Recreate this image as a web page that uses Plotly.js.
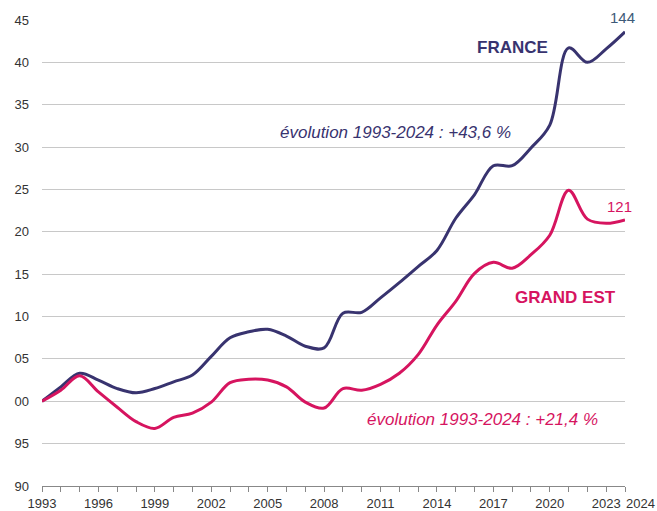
<!DOCTYPE html>
<html><head><meta charset="utf-8">
<script src="https://cdn.plot.ly/plotly-3.0.1.min.js"></script>
<style>html,body{margin:0;padding:0;background:#fff}#chart{width:657px;height:511px}</style>
</head><body><div id="chart"></div>
<script>
const years = [1993,1994,1995,1996,1997,1998,1999,2000,2001,2002,2003,2004,2005,2006,2007,2008,2009,2010,2011,2012,2013,2014,2015,2016,2017,2018,2019,2020,2021,2022,2023,2024];
const france = [100,101.7,103.3,102.5,101.5,101.0,101.5,102.3,103.1,105.3,107.5,108.2,108.5,107.7,106.5,106.3,110.4,110.5,112.2,114.0,115.9,117.8,121.6,124.4,127.8,127.8,129.9,132.6,141.7,140.0,141.6,143.6];
const grandEst = [100,101.3,103.0,101.1,99.3,97.6,96.8,98.1,98.6,99.9,102.2,102.6,102.5,101.7,99.9,99.2,101.5,101.3,102.0,103.3,105.5,109.0,111.8,115.1,116.4,115.7,117.3,119.6,124.9,121.5,121.0,121.4];
const yTickVals = [90,95,100,105,110,115,120,125,130,135,140,145];
const yTickText = ['90','95','00','05','10','15','20','25','30','35','40','45'];
const xTickVals = [1993,1996,1999,2002,2005,2008,2011,2014,2017,2020,2023];

const navy = '#38336f';
const pink = '#d6145f';

const traces = [
  {x: years, y: france, type: 'scatter', mode: 'lines', line: {color: navy, width: 3, shape: 'spline', smoothing: 1}, hoverinfo: 'skip'},
  {x: years, y: grandEst, type: 'scatter', mode: 'lines', line: {color: pink, width: 3, shape: 'spline', smoothing: 1}, hoverinfo: 'skip'}
];

const layout = {
  width: 657, height: 511,
  margin: {l: 42, r: 32, t: 20, b: 25},
  paper_bgcolor: '#fff', plot_bgcolor: '#fff',
  showlegend: false,
  font: {family: 'Liberation Sans, Arial, sans-serif', size: 13, color: '#333'},
  xaxis: {
    range: [1993, 2024], tickvals: xTickVals, ticktext: xTickVals.map(String),
    showgrid: false, zeroline: false, showline: true, linecolor: '#888', linewidth: 1,
    ticks: 'outside', ticklen: 5, tickcolor: '#888',
    minor: {dtick: 1, tick0: 1993, ticks: 'outside', ticklen: 5, tickcolor: '#888', showgrid: false},
    tickfont: {size: 13, color: '#333'}
  },
  yaxis: {
    range: [90, 145], tickvals: yTickVals, ticktext: yTickText,
    showgrid: true, gridcolor: '#c8c8c8', gridwidth: 1, zeroline: false, showline: false,
    ticks: '', ticklabelstandoff: 12, tickfont: {size: 13, color: '#333'}
  },
  annotations: [
    {x: 2024, y: 0, xref: 'x', yref: 'paper', text: '2024', showarrow: false, xanchor: 'left', yanchor: 'top', xshift: -1, yshift: -8, font: {size: 13, color: '#333'}},
    {x: 2024, y: france[france.length-1], xref: 'x', yref: 'y', text: '144', showarrow: false, xanchor: 'right', yanchor: 'bottom', xshift: 12, yshift: 4, font: {size: 15, color: '#3d5a78'}},
    {x: 2024, y: grandEst[grandEst.length-1], xref: 'x', yref: 'y', text: '121', showarrow: false, xanchor: 'right', yanchor: 'bottom', xshift: 9, yshift: 3, font: {size: 15, color: pink}},
    {x: 2018.0, y: 141.7, xref: 'x', yref: 'y', text: '<b>FRANCE</b>', showarrow: false, xanchor: 'center', font: {size: 17, color: navy}},
    {x: 2011.8, y: 131.7, xref: 'x', yref: 'y', text: '<i>évolution 1993-2024 : +43,6 %</i>', showarrow: false, xanchor: 'center', font: {size: 17, color: navy}},
    {x: 2020.86, y: 112.3, xref: 'x', yref: 'y', text: '<b>GRAND EST</b>', showarrow: false, xanchor: 'center', font: {size: 17, color: pink}},
    {x: 2016.4, y: 97.8, xref: 'x', yref: 'y', text: '<i>évolution 1993-2024 : +21,4 %</i>', showarrow: false, xanchor: 'center', font: {size: 17, color: pink}}
  ]
};

Plotly.newPlot('chart', traces, layout, {displayModeBar: false, staticPlot: true});
</script>
</body></html>
